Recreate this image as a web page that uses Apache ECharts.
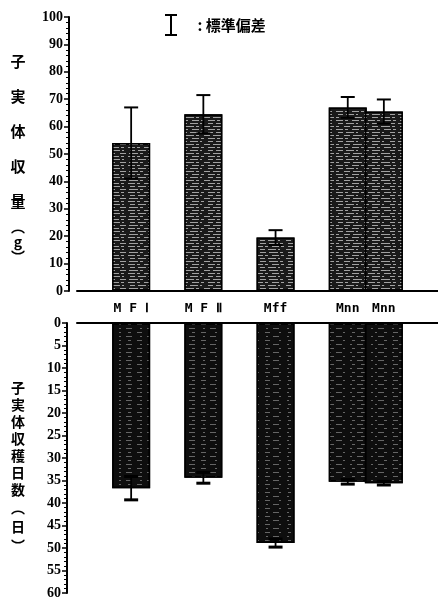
<!DOCTYPE html>
<html>
<head>
<meta charset="utf-8">
<script src="https://cdn.jsdelivr.net/npm/echarts/dist/echarts.min.js"></script>
<style>
  html, body { margin: 0; padding: 0; background: #fff; }
  #chart { width: 438px; height: 602px; }
</style>
</head>
<body>
<div id="chart"></div>
<script>
// Strains and measured values (mean and standard deviation)
const strains = ['M F Ⅰ', 'M F Ⅱ', 'Mff', 'Mnn', 'Mnn'];
const yieldMean = [54, 64.5, 19.5, 67, 65.5];   // fruit-body yield (g)
const yieldSD = [13, 7, 2.7, 3.8, 4.4];
const daysMean = [36.7, 34.4, 48.9, 35.3, 35.6]; // days to harvest
const daysSD = [2.6, 1.2, 0.9, 0.5, 0.4];

// Axis ranges
const yieldMax = 100, yieldStep = 10;
const daysMax = 60, daysStep = 5;

// The two Mnn strains sit side by side; the others are separated by an empty slot
const slotIndex = [1, 3, 5, 7, 8];
const slotCount = 10;

function toSlots(values) {
  const out = new Array(slotCount).fill('-');
  values.forEach((v, i) => { out[slotIndex[i]] = v; });
  return out;
}
const slotLabels = toSlots(strains).map(v => (v === '-' ? '' : v));

function errorData(mean, sd) {
  return mean.map((m, i) => [slotIndex[i], m - sd[i], m + sd[i]]);
}

const sdName = ' : 標準偏差';

function errorRender(capHalf, capWidth) {
  return function (params, api) {
    const x = api.value(0);
    const lo = api.coord([x, api.value(1)]);
    const hi = api.coord([x, api.value(2)]);
    const st = { stroke: '#000', lineWidth: 1.8 };
    const cap = { stroke: '#000', lineWidth: capWidth };
    return {
      type: 'group',
      children: [
        { type: 'line', shape: { x1: lo[0], y1: lo[1], x2: hi[0], y2: hi[1] }, style: st },
        { type: 'line', shape: { x1: hi[0] - capHalf, y1: hi[1], x2: hi[0] + capHalf, y2: hi[1] }, style: cap },
        { type: 'line', shape: { x1: lo[0] - capHalf, y1: lo[1], x2: lo[0] + capHalf, y2: lo[1] }, style: cap }
      ]
    };
  };
}

const serif = 'Liberation Serif';
const cjk = '"Noto Sans CJK JP", sans-serif';

const tickLabel = { color: '#000', fontFamily: serif, fontWeight: 'bold', fontSize: 14, margin: 6 };
const axisLine = { show: true, lineStyle: { color: '#000', width: 2 } };
const axisTick = { show: true, length: 5, lineStyle: { color: '#000', width: 1.5 } };

const topDecal = {
  symbol: 'rect', symbolSize: 1, color: 'rgba(235,235,235,0.65)',
  dashArrayX: [[5, 3, 8, 2, 2, 6], [3, 5, 6, 3, 9, 2], [7, 2, 3, 4]], dashArrayY: [1, 2], rotation: 0
};
const bottomDecal = {
  symbol: 'rect', symbolSize: 1, color: 'rgba(235,235,235,0.4)',
  dashArrayX: [[3, 6, 5, 9, 2, 7], [6, 8, 2, 5]], dashArrayY: [1, 3], rotation: 0
};

const chart = echarts.init(document.getElementById('chart'), null, { renderer: 'canvas' });

chart.setOption({
  animation: false,
  backgroundColor: '#fff',
  legend: {
    left: 160, top: 9,
    itemWidth: 12, itemHeight: 22,
    selectedMode: false,
    data: [{ name: sdName, icon: 'path://M0,0H12V2H0Z M5,0H7V22H5Z M0,20H12V22H0Z' }],
    textStyle: { color: '#000', fontSize: 15, fontWeight: 'bold', fontFamily: cjk, padding: [0, 0, 0, 12] }
  },
  grid: [
    { left: 77, top: 17, width: 369, height: 274 },
    { left: 77, top: 323, width: 369, height: 270 }
  ],
  xAxis: [
    {
      gridIndex: 0, type: 'category', data: slotLabels, position: 'bottom',
      axisLine: axisLine, axisTick: { show: false },
      axisLabel: { interval: 0, color: '#000', fontWeight: 'bold', fontFamily: 'DejaVu Sans Mono', fontSize: 13, margin: 11 }
    },
    {
      gridIndex: 1, type: 'category', data: slotLabels, position: 'top',
      axisLine: axisLine, axisTick: { show: false }, axisLabel: { show: false }
    }
  ],
  yAxis: [
    {
      gridIndex: 0, type: 'value', min: 0, max: yieldMax, interval: yieldStep, offset: 8,
      axisLine: axisLine, axisTick: axisTick,
      minorTick: { show: true, splitNumber: 5, length: 3, lineStyle: { color: '#000', width: 1 } },
      splitLine: { show: false }, axisLabel: tickLabel,
      name: '{c|子}\n{c|実}\n{c|体}\n{c|収}\n{c|量}\n{p|︵}\n{p|g}\n{p|︶}',
      nameLocation: 'middle', nameRotate: 0, nameGap: 43,
      nameTextStyle: {
        rich: {
          c: { fontSize: 15, lineHeight: 35, width: 16, align: 'center', fontWeight: 'bold', fontFamily: cjk, color: '#000' },
          p: { fontSize: 14, lineHeight: 15, width: 16, align: 'center', fontWeight: 'bold', fontFamily: cjk, color: '#000' }
        }
      }
    },
    {
      gridIndex: 1, type: 'value', min: 0, max: daysMax, interval: daysStep, inverse: true, offset: 10,
      axisLine: axisLine, axisTick: axisTick,
      minorTick: { show: true, splitNumber: 5, length: 3, lineStyle: { color: '#000', width: 1 } },
      splitLine: { show: false }, axisLabel: tickLabel,
      name: '{c|子}\n{c|実}\n{c|体}\n{c|収}\n{c|穫}\n{c|日}\n{c|数}\n{p|︵}\n{p|日}\n{p|︶}',
      nameLocation: 'middle', nameRotate: 0, nameGap: 41,
      nameTextStyle: {
        padding: [19, 0, 0, 0],
        rich: {
          c: { fontSize: 14, lineHeight: 17, width: 16, align: 'center', fontWeight: 'bold', fontFamily: cjk, color: '#000' },
          p: { fontSize: 14, lineHeight: 19, width: 16, align: 'center', fontWeight: 'bold', fontFamily: cjk, color: '#000' }
        }
      }
    }
  ],
  series: [
    {
      type: 'bar', xAxisIndex: 0, yAxisIndex: 0, barWidth: 38,
      data: toSlots(yieldMean),
      itemStyle: { color: '#1a1a1a', borderColor: '#000', borderWidth: 1.5, decal: topDecal },
      emphasis: { disabled: true }
    },
    {
      type: 'bar', xAxisIndex: 1, yAxisIndex: 1, barWidth: 38,
      data: toSlots(daysMean),
      itemStyle: { color: '#0e0e0e', borderColor: '#000', borderWidth: 1.5, decal: bottomDecal },
      emphasis: { disabled: true }
    },
    {
      type: 'custom', name: sdName, xAxisIndex: 0, yAxisIndex: 0, z: 5,
      itemStyle: { color: '#000' },
      renderItem: errorRender(7, 2),
      data: errorData(yieldMean, yieldSD)
    },
    {
      type: 'custom', name: sdName, xAxisIndex: 1, yAxisIndex: 1, z: 5,
      itemStyle: { color: '#000' },
      renderItem: errorRender(7, 3),
      data: errorData(daysMean, daysSD)
    }
  ]
});
</script>
</body>
</html>
